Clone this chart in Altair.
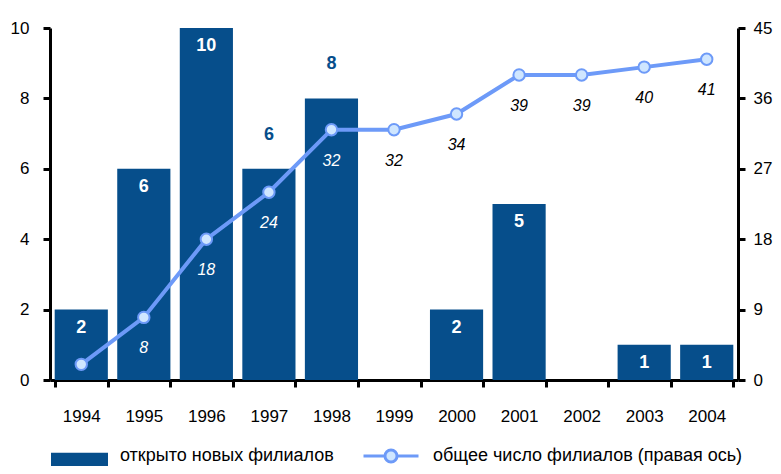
import altair as alt
import pandas as pd

years = ["1994", "1995", "1996", "1997", "1998", "1999", "2000", "2001", "2002", "2003", "2004"]
opened = [2, 6, 10, 6, 8, 0, 2, 5, 0, 1, 1]
total = [2, 8, 18, 24, 32, 32, 34, 39, 39, 40, 41]
left_ticks = [0, 2, 4, 6, 8, 10]
right_ticks = [0, 9, 18, 27, 36, 45]
bar_series = "открыто новых филиалов"
line_series = "общее число филиалов (правая ось)"
bar_labels_above = ["1997", "1998"]
line_label_hidden = ["1994"]

FONT = "Liberation Sans"
BAR = "#064e8b"
LINE = "#6d9af8"
PFILL = "#cfe6ff"

df = pd.DataFrame({"year": years, "opened": opened, "total": total})
df["s1"] = bar_series
df["s2"] = line_series
df["above"] = df["year"].isin(bar_labels_above)
df["inside"] = (df["total"] / 4.5) < df["opened"]
df["showline"] = ~df["year"].isin(line_label_hidden)

xaxis = alt.Axis(title=None, labelAngle=0, tickBand="extent",
                 labelFontSize=17, labelFont=FONT, labelColor="#000",
                 labelPadding=21, domainColor="#000", domainWidth=3,
                 tickColor="#000", tickWidth=3, tickSize=7)
xscale = alt.Scale(paddingInner=0.15, paddingOuter=0.075)
laxis = alt.Axis(title=None, values=left_ticks, grid=False, orient="left",
                 labelFontSize=17, labelFont=FONT, labelColor="#000",
                 labelPadding=14, domainColor="#000", domainWidth=3,
                 tickColor="#000", tickWidth=3, tickSize=7)
raxis = alt.Axis(title=None, values=right_ticks, grid=False, orient="right",
                 labelFontSize=17, labelFont=FONT, labelColor="#000",
                 labelPadding=8, domainColor="#000", domainWidth=3,
                 tickColor="#000", tickWidth=3, tickSize=7)
yl = alt.Scale(domain=[0, 10], nice=False)
yr = alt.Scale(domain=[0, 45], nice=False)


def X():
    return alt.X("year:N", sort=years, scale=xscale, axis=xaxis)


def YL(f):
    return alt.Y(f, scale=yl, axis=laxis)


def YR(f):
    return alt.Y(f, scale=yr, axis=raxis)


base = alt.Chart(df)

bars = base.mark_bar(color=BAR).encode(
    x=X(), y=YL("opened:Q"),
    color=alt.Color("s1:N", scale=alt.Scale(domain=[bar_series], range=[BAR]),
                    legend=alt.Legend(orient="none", legendX=1, legendY=399,
                                      title=None, direction="horizontal",
                                      labelFontSize=18, labelFont=FONT, labelColor="#000",
                                      labelOffset=12, labelLimit=400,
                                      symbolType="M-1,-0.1L1,-0.1L1,0.6L-1,0.6Z",
                                      symbolSize=3249, symbolStrokeWidth=0)),
)

bar_in = base.transform_filter("datum.opened > 0 && !datum.above").mark_text(
    color="white", font=FONT, fontSize=18, fontWeight="bold", baseline="middle", dy=18
).encode(x=X(), y=YL("opened:Q"), text="opened:Q")

bar_out = base.transform_filter("datum.above").mark_text(
    color=BAR, font=FONT, fontSize=18, fontWeight="bold", baseline="middle", dy=-34
).encode(x=X(), y=YL("opened:Q"), text="opened:Q")

line = base.mark_line(color=LINE, strokeWidth=4).encode(x=X(), y=YR("total:Q"))

pts = base.mark_point(shape="circle", filled=True, fill=PFILL, size=130,
                      strokeWidth=2, opacity=1).encode(
    x=X(), y=YR("total:Q"),
    stroke=alt.Stroke("s2:N", scale=alt.Scale(domain=[line_series], range=[LINE]),
                      legend=alt.Legend(orient="none", legendX=312, legendY=399,
                                        title=None, direction="horizontal",
                                        labelFontSize=18, labelFont=FONT, labelColor="#000",
                                        labelOffset=13, labelLimit=400,
                                        symbolType="M-1,0L-0.22,0M0.22,0L1,0M0.22,0A0.22,0.22 0 1,1 -0.22,0A0.22,0.22 0 1,1 0.22,0Z",
                                        symbolSize=3025, symbolStrokeWidth=3,
                                        symbolFillColor=PFILL)),
)

line_txt = base.transform_filter("datum.showline").mark_text(
    font=FONT, fontSize=16, fontStyle="italic", baseline="middle", dy=31
).encode(
    x=X(), y=YR("total:Q"),
    text="total:Q",
    color=alt.condition("datum.inside", alt.value("white"), alt.value("black")),
)

left = alt.layer(bars, bar_in, bar_out)
right = alt.layer(line, pts, line_txt)

chart = alt.layer(left, right).resolve_scale(y="independent").properties(
    width=688, height=352,
    autosize=alt.AutoSizeParams(type="none"),
    padding={"left": 42, "top": 20, "right": 35, "bottom": 86},
).configure_view(stroke=None).configure_axis(grid=False)

chart.save("out.html", embed_options={"renderer": "svg", "actions": False})
